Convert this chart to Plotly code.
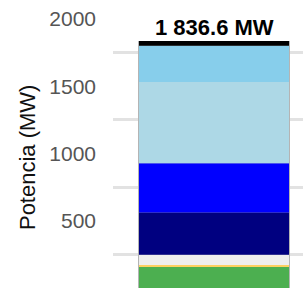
import numpy as np
import plotly.graph_objects as go

# Data (bottom to top of the stacked bar)
categories = ["Solar", "Otra", "Eólica", "Hidro", "Térmica", "Ciclo", "Gas", "Importación"]
values_mw = [156, 15, 76, 314, 367, 603.6, 270, 35]
colors = ["#4caf50", "#fdd060", "#eeeeee", "#000080", "#0000ff", "#add8e6", "#87ceeb", "#000000"]
total_label = "1 836.6 MW"
y_title = "Potencia (MW)"
y_ticks = [0, 500, 1000, 1500, 2000]
grid_vals = [250, 750, 1250, 1750]

vals = np.array(values_mw, dtype=float)
bases = np.concatenate([[0], np.cumsum(vals)[:-1]])
total = float(vals.sum())

fig = go.Figure()
# outline bar behind the segments
fig.add_trace(go.Bar(x=[0], y=[total], base=[0], width=[152 / 150],
                     marker=dict(color="#b4b4b4", line=dict(width=0)),
                     hoverinfo="skip", showlegend=False))
for name, v, b, c in zip(categories, vals, bases, colors):
    fig.add_trace(go.Bar(x=[0], y=[v], base=[b], width=[1], name=name,
                         marker=dict(color=c, line=dict(width=0)),
                         showlegend=False))

fig.add_annotation(x=0, y=total, text="<b>" + total_label + "</b>", showarrow=False,
                   yanchor="bottom", yshift=-1,
                   font=dict(family="Liberation Sans, Arial", size=22, color="#000000"))
fig.add_annotation(xref="paper", yref="paper", x=-0.447, y=0.459, text=y_title,
                   textangle=-90, showarrow=False, xanchor="center", yanchor="middle",
                   font=dict(family="Liberation Sans, Arial", size=22, color="#111111"))

fig.update_layout(
    width=303, height=292,
    margin=dict(l=113, r=0, t=0, b=0, autoexpand=False),
    barmode="overlay",
    paper_bgcolor="white", plot_bgcolor="white",
    showlegend=False,
    font=dict(family="Liberation Sans, Arial"),
)
fig.update_xaxes(range=[-0.6733, 0.5933], showticklabels=False, showgrid=False,
                 zeroline=False, showline=False, ticks="", automargin=False)
fig.update_yaxes(range=[-30, 2141], tickvals=y_ticks, ticktext=[str(t) for t in y_ticks],
                 showgrid=False, zeroline=False, showline=False, ticks="",
                 automargin=False,
                 ticklabelstandoff=16,
                 tickfont=dict(size=21, color="#555555"),
                 minor=dict(tickvals=grid_vals, showgrid=True, gridcolor="#e2e2e2",
                            gridwidth=2.5, ticks=""))

fig.write_html("out.html", config={"displayModeBar": False},
               post_script="document.body.style.margin='0';document.body.style.overflow='hidden';")
